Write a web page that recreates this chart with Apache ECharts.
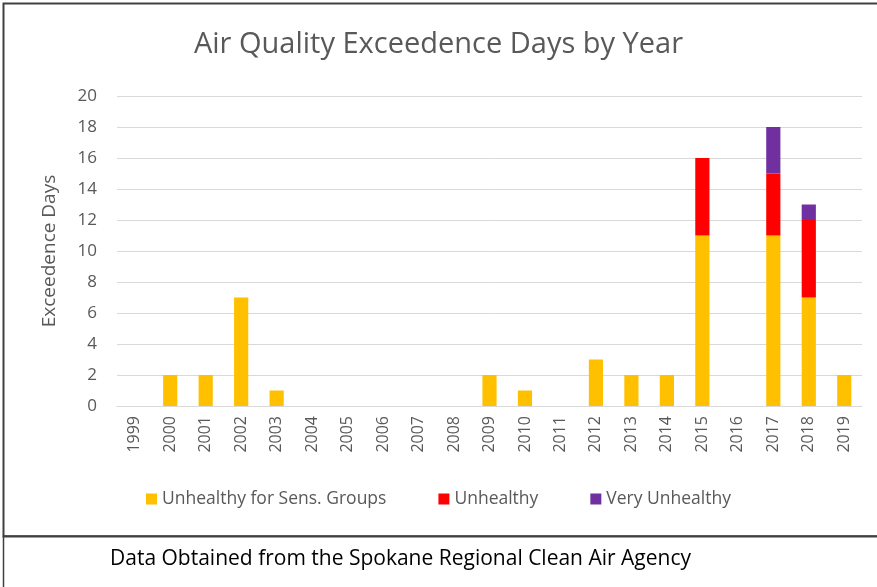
<!DOCTYPE html>
<html>
<head>
<meta charset="utf-8">
<script src="https://cdn.jsdelivr.net/npm/echarts@6/dist/echarts.min.js"></script>
<style>
html,body{margin:0;padding:0;background:#fff;}
#c{width:877px;height:587px;}
</style>
</head>
<body>
<div id="c"></div>
<script>
var years = ['1999','2000','2001','2002','2003','2004','2005','2006','2007','2008','2009','2010','2011','2012','2013','2014','2015','2016','2017','2018','2019'];
var usg = [0,2,2,7,1,0,0,0,0,0,2,1,0,3,2,2,11,0,11,7,2];
var unhealthy = [0,0,0,0,0,0,0,0,0,0,0,0,0,0,0,0,5,0,4,5,0];
var veryUnhealthy = [0,0,0,0,0,0,0,0,0,0,0,0,0,0,0,0,0,0,3,1,0];
var yTicks = [0,2,4,6,8,10,12,14,16,18,20];

var chart = echarts.init(document.getElementById('c'));
var font = '"Open Sans", "Noto Sans", sans-serif';
function nz(a){return a.map(function(v){return v===0?null:v;});}
chart.setOption({
  animation:false,
  backgroundColor:'#fff',
  textStyle:{fontFamily:font},
  title:{text:'Air Quality Exceedence Days by Year',left:'center',top:25,
    textStyle:{fontSize:29,fontWeight:'normal',color:'#595959',fontFamily:font}},
  graphic:[
    {type:'rect',shape:{x:3.5,y:3.5,width:900,height:533},style:{fill:null,stroke:'#404040',lineWidth:2}},
    {type:'rect',shape:{x:3.5,y:536,width:900,height:60},style:{fill:null,stroke:'#404040',lineWidth:1.5}},
    {type:'text',left:110,top:549,style:{text:'Data Obtained from the Spokane Regional Clean Air Agency',fontSize:21,fill:'#000',fontFamily:font}}
  ],
  legend:{bottom:74,left:'center',itemWidth:11,itemHeight:11,itemGap:52,icon:'rect',
    textStyle:{fontSize:17.5,color:'#595959',fontFamily:font},
    data:['Unhealthy for Sens. Groups','Unhealthy','Very Unhealthy']},
  grid:{left:117,right:15,top:96,bottom:181,containLabel:false},
  xAxis:{type:'category',data:years,
    axisLine:{lineStyle:{color:'#d9d9d9'}},axisTick:{show:false},
    axisLabel:{rotate:90,fontSize:16,color:'#595959',margin:10,interval:0}},
  yAxis:{type:'value',min:0,max:20,interval:2,
    name:'Exceedence Days',nameLocation:'middle',nameGap:58,nameRotate:90,
    nameTextStyle:{fontSize:19,color:'#595959'},
    axisLine:{show:false},axisTick:{show:false},
    axisLabel:{fontSize:17,color:'#595959',margin:20},
    splitLine:{lineStyle:{color:'#d9d9d9',width:1}}},
  series:[
    {name:'Unhealthy for Sens. Groups',type:'bar',stack:'a',data:nz(usg),barWidth:'40%',itemStyle:{color:'#FFC000'}},
    {name:'Unhealthy',type:'bar',stack:'a',data:nz(unhealthy),itemStyle:{color:'#FF0000'}},
    {name:'Very Unhealthy',type:'bar',stack:'a',data:nz(veryUnhealthy),itemStyle:{color:'#7030A0'}}
  ]
});
</script>
</body>
</html>
